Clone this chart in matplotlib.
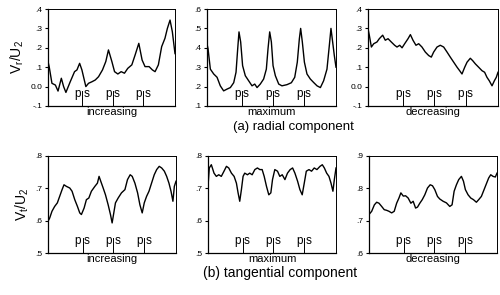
import numpy as np
import matplotlib
matplotlib.use('Agg')
import matplotlib.pyplot as plt

plt.rcParams['font.family'] = ['Liberation Sans', 'DejaVu Sans']
plt.rcParams['mathtext.default'] = 'regular'

# radial component, increasing / maximum / decreasing
rad_inc_x = [0.0, 0.010, 0.031, 0.058, 0.079, 0.105, 0.123, 0.141, 0.175, 0.209, 0.228,
             0.249, 0.267, 0.298, 0.319, 0.346, 0.372, 0.398, 0.429, 0.455, 0.476, 0.503,
             0.524, 0.550, 0.576, 0.602, 0.628, 0.660, 0.686, 0.715, 0.741, 0.764, 0.796,
             0.822, 0.843, 0.869, 0.895, 0.921, 0.940, 0.961, 0.979, 1.0]
rad_inc_y = [0.13, 0.10, 0.017, 0.008, -0.023, 0.043, 0.0, -0.03, 0.025, 0.077, 0.086,
             0.12, 0.086, 0.0, 0.017, 0.025, 0.034, 0.051, 0.086, 0.129, 0.189, 0.129,
             0.077, 0.065, 0.077, 0.069, 0.094, 0.112, 0.163, 0.223, 0.137, 0.103, 0.103,
             0.086, 0.077, 0.112, 0.206, 0.249, 0.30, 0.343, 0.283, 0.17]

rad_max_x = [0.0, 0.008, 0.026, 0.052, 0.078, 0.103, 0.129, 0.155, 0.181, 0.207, 0.225,
             0.238, 0.248, 0.261, 0.276, 0.297, 0.323, 0.349, 0.370, 0.388, 0.413, 0.439,
             0.460, 0.473, 0.486, 0.499, 0.512, 0.530, 0.556, 0.581, 0.620, 0.654, 0.680,
             0.700, 0.716, 0.726, 0.739, 0.755, 0.775, 0.801, 0.827, 0.853, 0.879, 0.904,
             0.930, 0.948, 0.961, 0.974, 0.987, 1.0]
rad_max_y = [0.42, 0.395, 0.29, 0.265, 0.248, 0.204, 0.178, 0.187, 0.195, 0.22, 0.274,
             0.395, 0.482, 0.43, 0.308, 0.256, 0.23, 0.204, 0.213, 0.195, 0.213, 0.239,
             0.29, 0.395, 0.482, 0.43, 0.308, 0.256, 0.213, 0.204, 0.21, 0.22, 0.248,
             0.326, 0.447, 0.5, 0.43, 0.326, 0.265, 0.239, 0.221, 0.204, 0.195, 0.23,
             0.29, 0.41, 0.5, 0.43, 0.36, 0.3]

rad_dec_x = [0.0, 0.010, 0.026, 0.044, 0.069, 0.087, 0.113, 0.133, 0.154, 0.179, 0.205,
             0.223, 0.244, 0.262, 0.282, 0.308, 0.326, 0.346, 0.369, 0.390, 0.415, 0.441,
             0.467, 0.487, 0.505, 0.531, 0.556, 0.582, 0.608, 0.633, 0.659, 0.685, 0.705,
             0.723, 0.744, 0.762, 0.787, 0.805, 0.826, 0.851, 0.877, 0.897, 0.915, 0.933,
             0.954, 0.972, 0.987, 1.0]
rad_dec_y = [0.299, 0.265, 0.204, 0.221, 0.23, 0.247, 0.265, 0.239, 0.247, 0.23, 0.213,
             0.204, 0.213, 0.2, 0.221, 0.247, 0.268, 0.239, 0.213, 0.221, 0.204, 0.178,
             0.16, 0.152, 0.178, 0.204, 0.213, 0.204, 0.178, 0.152, 0.126, 0.1, 0.082,
             0.065, 0.1, 0.126, 0.146, 0.134, 0.117, 0.1, 0.082, 0.074, 0.048, 0.03,
             0.004, 0.03, 0.048, 0.074]

# tangential component
tan_inc_x = [0.0, 0.013, 0.031, 0.052, 0.073, 0.091, 0.110, 0.125, 0.144, 0.170, 0.188,
             0.209, 0.230, 0.248, 0.261, 0.282, 0.300, 0.319, 0.339, 0.366, 0.386, 0.399,
             0.413, 0.431, 0.449, 0.470, 0.488, 0.501, 0.514, 0.527, 0.548, 0.574, 0.601,
             0.621, 0.642, 0.658, 0.679, 0.700, 0.718, 0.736, 0.752, 0.770, 0.789, 0.809,
             0.830, 0.849, 0.869, 0.888, 0.909, 0.927, 0.945, 0.961, 0.976, 0.987, 1.0]
tan_inc_y = [0.598, 0.608, 0.629, 0.644, 0.655, 0.675, 0.696, 0.711, 0.706, 0.701, 0.691,
             0.665, 0.644, 0.624, 0.619, 0.639, 0.665, 0.67, 0.691, 0.706, 0.716, 0.737,
             0.721, 0.701, 0.68, 0.649, 0.619, 0.593, 0.624, 0.655, 0.67, 0.686, 0.696,
             0.727, 0.742, 0.737, 0.716, 0.686, 0.649, 0.624, 0.655, 0.675, 0.691, 0.716,
             0.742, 0.758, 0.768, 0.763, 0.753, 0.737, 0.716, 0.691, 0.66, 0.706, 0.722]

tan_max_x = [0.0, 0.010, 0.026, 0.047, 0.065, 0.084, 0.104, 0.125, 0.144, 0.162, 0.183,
             0.204, 0.222, 0.235, 0.248, 0.261, 0.274, 0.287, 0.308, 0.326, 0.345, 0.366,
             0.386, 0.405, 0.423, 0.439, 0.457, 0.475, 0.491, 0.504, 0.522, 0.543, 0.561,
             0.580, 0.601, 0.621, 0.642, 0.661, 0.679, 0.700, 0.718, 0.736, 0.752, 0.768,
             0.789, 0.809, 0.830, 0.851, 0.875, 0.893, 0.909, 0.927, 0.945, 0.961, 0.976,
             0.987, 1.0]
tan_max_y = [0.706, 0.763, 0.773, 0.747, 0.737, 0.742, 0.737, 0.753, 0.768, 0.763, 0.747,
             0.737, 0.716, 0.686, 0.66, 0.696, 0.737, 0.747, 0.742, 0.747, 0.742, 0.758,
             0.763, 0.758, 0.758, 0.737, 0.706, 0.68, 0.686, 0.727, 0.758, 0.753, 0.737,
             0.742, 0.727, 0.747, 0.758, 0.763, 0.747, 0.722, 0.696, 0.68, 0.716, 0.753,
             0.758, 0.753, 0.763, 0.758, 0.768, 0.773, 0.763, 0.747, 0.737, 0.716, 0.691,
             0.727, 0.763]

tan_dec_x = [0.0, 0.021, 0.042, 0.060, 0.078, 0.099, 0.119, 0.138, 0.156, 0.177, 0.197,
             0.216, 0.234, 0.249, 0.268, 0.286, 0.306, 0.327, 0.345, 0.364, 0.379, 0.397,
             0.416, 0.436, 0.457, 0.478, 0.496, 0.514, 0.535, 0.553, 0.579, 0.605, 0.631,
             0.649, 0.665, 0.683, 0.701, 0.722, 0.738, 0.753, 0.774, 0.795, 0.816, 0.839,
             0.857, 0.878, 0.899, 0.919, 0.935, 0.951, 0.969, 0.987, 1.0]
tan_dec_y = [0.719, 0.729, 0.749, 0.757, 0.754, 0.744, 0.734, 0.732, 0.729, 0.724, 0.729,
             0.754, 0.770, 0.786, 0.776, 0.777, 0.770, 0.754, 0.760, 0.739, 0.742, 0.754,
             0.765, 0.780, 0.801, 0.811, 0.808, 0.796, 0.775, 0.767, 0.760, 0.755, 0.744,
             0.749, 0.791, 0.811, 0.827, 0.837, 0.822, 0.796, 0.780, 0.770, 0.765, 0.757,
             0.765, 0.775, 0.796, 0.816, 0.832, 0.842, 0.837, 0.835, 0.847]

# pressure / suction side marks
ps_positions = [0.27, 0.51, 0.75]

titles = ['increasing', 'maximum', 'decreasing']

rad_ylims = [(-0.1, 0.4), (0.1, 0.6), (-0.1, 0.4)]
rad_ticks = [[-0.1, 0.0, 0.1, 0.2, 0.3, 0.4], [0.1, 0.2, 0.3, 0.4, 0.5, 0.6],
             [-0.1, 0.0, 0.1, 0.2, 0.3, 0.4]]
rad_ticklabels = [['-.1', '0.0', '.1', '.2', '.3', '.4'], ['.1', '.2', '.3', '.4', '.5', '.6'],
                  ['-.1', '0.0', '.1', '.2', '.3', '.4']]
tan_ylims = [(0.5, 0.8), (0.5, 0.8), (0.6, 0.9)]
tan_ticks = [[0.5, 0.6, 0.7, 0.8], [0.5, 0.6, 0.7, 0.8], [0.6, 0.7, 0.8, 0.9]]
tan_ticklabels = [['.5', '.6', '.7', '.8'], ['.5', '.6', '.7', '.8'], ['.6', '.7', '.8', '.9']]

W, H = 500, 295
fig = plt.figure(figsize=(W / 100, H / 100), dpi=100)


def make_axes(left, right, top, bottom):
    return fig.add_axes([left / W, 1 - bottom / H, (right - left) / W, (bottom - top) / H])


def draw_panel(ax, x, y, ylim, ticks, ticklabels, label):
    ax.plot(x, y, color='black', linewidth=1.0)
    ax.set_xlim(0, 1)
    ax.set_ylim(*ylim)
    ax.set_xticks([])
    ax.set_yticks(ticks)
    ax.set_yticklabels(ticklabels)
    ax.tick_params(axis='y', direction='out', length=2.5, width=0.8, pad=1.5, labelsize=6)
    for sp in ax.spines.values():
        sp.set_linewidth(0.9)
    ax.spines['top'].set_linewidth(0.7)
    ax.spines['right'].set_linewidth(0.7)
    trans = ax.get_xaxis_transform()
    for p in ps_positions:
        ax.plot([p, p], [0, 0.15], color='black', linewidth=0.7, transform=trans)
        ax.text(p - 0.01, 0.06, 'p', transform=trans, ha='right', va='bottom', fontsize=8.5)
        ax.text(p + 0.01, 0.06, 's', transform=trans, ha='left', va='bottom', fontsize=8.5)
    ax.set_xlabel(label, fontsize=8, labelpad=1)


top_axes = [make_axes(48, 175, 9, 106), make_axes(207, 336, 9, 106), make_axes(368, 498, 9, 106)]
bot_axes = [make_axes(48, 176, 156, 253), make_axes(208, 336, 156, 253), make_axes(369, 497, 156, 253)]

rad_x = [rad_inc_x, rad_max_x, rad_dec_x]
rad_y = [rad_inc_y, rad_max_y, rad_dec_y]
tan_x = [tan_inc_x, tan_max_x, tan_dec_x]
tan_y = [tan_inc_y, tan_max_y, tan_dec_y]

for i in range(3):
    draw_panel(top_axes[i], rad_x[i], rad_y[i], rad_ylims[i], rad_ticks[i], rad_ticklabels[i], titles[i])
    draw_panel(bot_axes[i], tan_x[i], tan_y[i], tan_ylims[i], tan_ticks[i], tan_ticklabels[i], titles[i])

top_axes[0].set_ylabel('V$_r$/U$_2$', fontsize=10, labelpad=3)
bot_axes[0].set_ylabel('V$_t$/U$_2$', fontsize=10, labelpad=3)

fig.text(293 / W, 1 - 127 / H, '(a) radial component', ha='center', va='center', fontsize=9.5)
fig.text(280 / W, 1 - 273 / H, '(b) tangential component', ha='center', va='center', fontsize=10)

fig.savefig('out.png', dpi=100)
